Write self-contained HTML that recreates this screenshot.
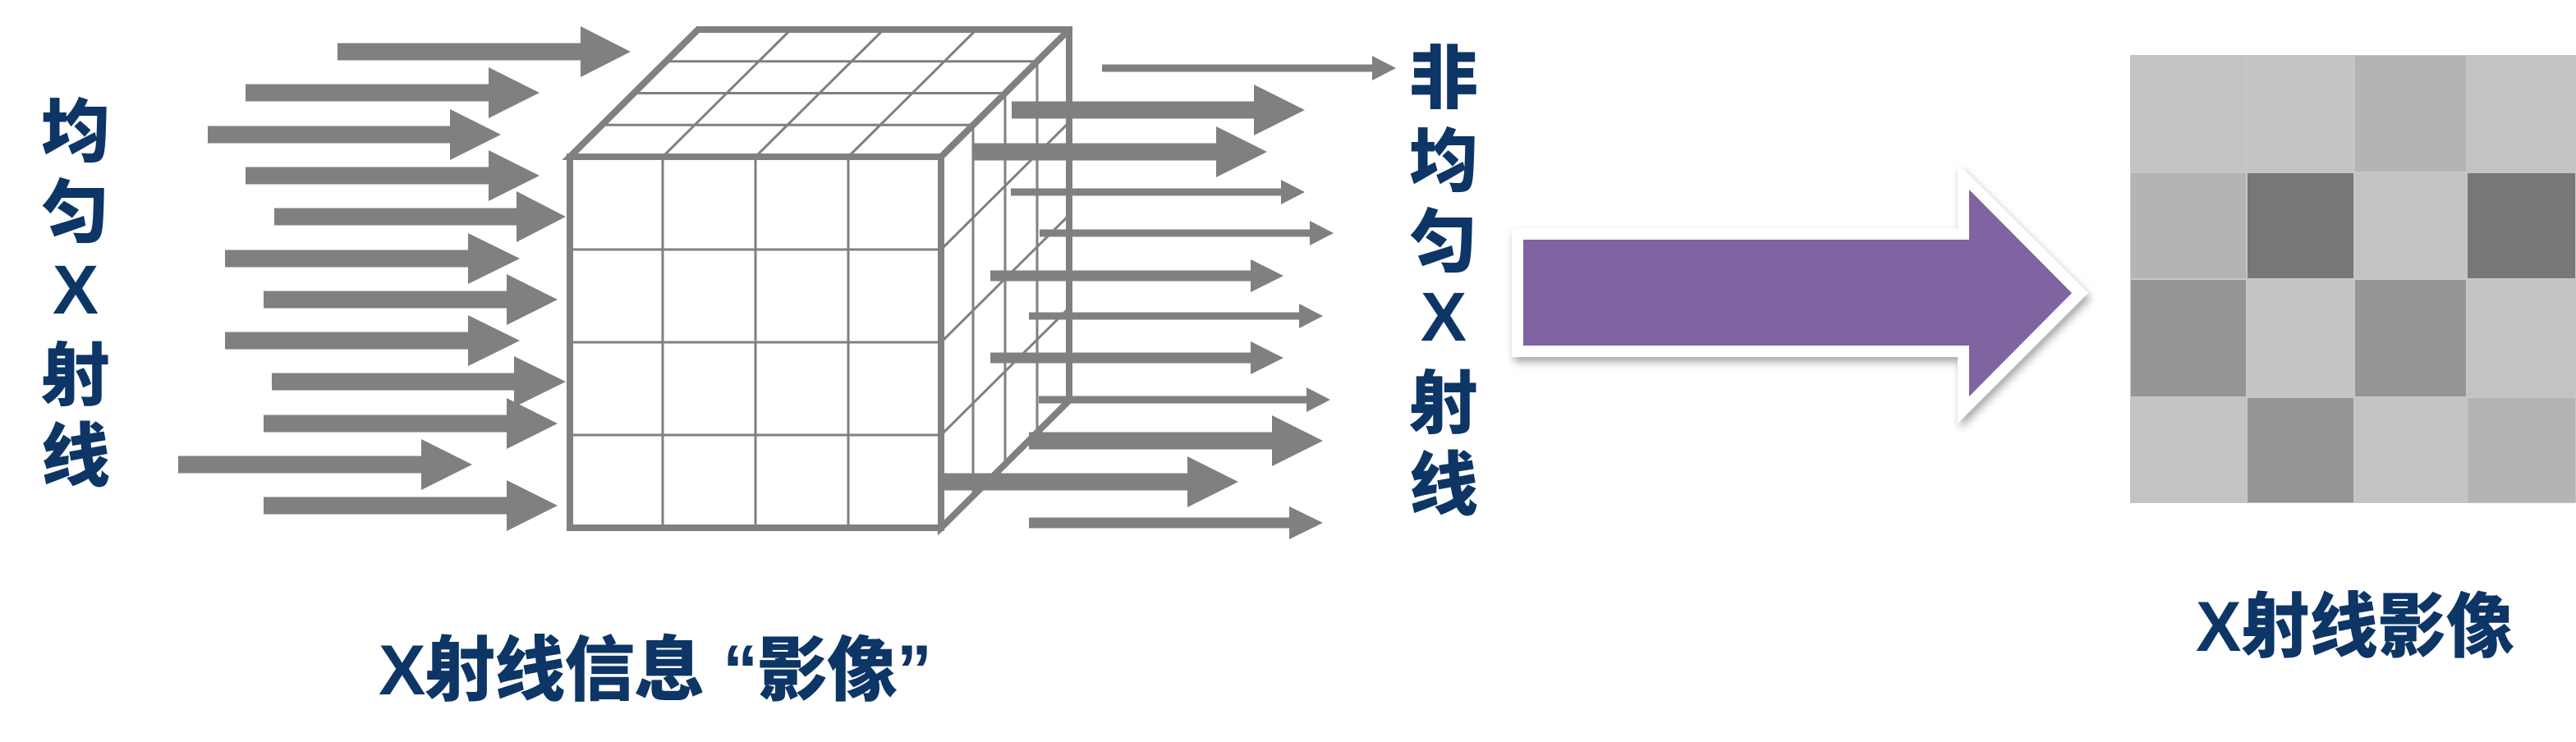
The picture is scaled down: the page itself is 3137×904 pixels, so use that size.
<!DOCTYPE html>
<html><head><meta charset="utf-8"><style>
html,body{margin:0;padding:0;background:#fff;}
svg{display:block;}
text{font-family:"Liberation Sans","Noto Sans CJK SC","WenQuanYi Zen Hei",sans-serif;font-weight:900;fill:#0d3566;}
</style></head><body>
<svg id="s" width="3137" height="904" viewBox="0 0 3137 904" xmlns="http://www.w3.org/2000/svg">
<defs>
<filter id="sh" x="-10%" y="-10%" width="130%" height="140%"><feDropShadow dx="3" dy="6" stdDeviation="5" flood-color="#000" flood-opacity="0.35"/></filter>
</defs>
<g id="cube" stroke="#808080" fill="none"></g>
<g id="arrows" fill="#808080"></g>
<polygon filter="url(#sh)" fill="#fff" points="1841,278 2384,278 2384,199 2543,357 2384,516 2384,435 1841,435"/>
<polygon fill="#8064a2" points="1855,292 2398,292 2398,231 2523,357 2398,483 2398,421 1855,421"/>
<g id="grid"></g>
<g font-size="84" text-anchor="middle">
<text x="92" y="190">均</text>
<text x="92" y="288">匀</text>
<text x="92" y="382">X</text>
<text x="92" y="487">射</text>
<text x="92" y="585">线</text>
<text x="1758" y="125">非</text>
<text x="1758" y="226">均</text>
<text x="1758" y="324">匀</text>
<text x="1758" y="415">X</text>
<text x="1758" y="521">射</text>
<text x="1758" y="620">线</text>
</g>
<text x="461" y="846" font-size="86" textLength="674" lengthAdjust="spacing">X射线信息 “影像”</text>
<text x="2674" y="793" font-size="86" textLength="388" lengthAdjust="spacingAndGlyphs">X射线影像</text>
</svg>
<script>
var NS="http://www.w3.org/2000/svg";
function el(p,t,a){var e=document.createElementNS(NS,t);for(var k in a)e.setAttribute(k,a[k]);p.appendChild(e);return e;}
var cube=document.getElementById('cube');
var FLx=694,FRx=1146,Ty=191,By=643,dx=156,dy=-155;
function ln(x1,y1,x2,y2,w){el(cube,'line',{x1:x1,y1:y1,x2:x2,y2:y2,'stroke-width':w});}
for(var k=1;k<4;k++){
  var ox=dx*k/4,oy=dy*k/4;
  ln(FLx+ox,Ty+oy,FRx+ox,Ty+oy,3);
  ln(FLx+(FRx-FLx)*k/4,Ty,FLx+(FRx-FLx)*k/4+dx,Ty+dy,3);
  ln(FRx+ox,Ty+oy,FRx+ox,By+oy,3);
  var yy=Ty+(By-Ty)*k/4;
  ln(FRx,yy,FRx+dx,yy+dy,3);
  ln(FLx+(FRx-FLx)*k/4,Ty,FLx+(FRx-FLx)*k/4,By,3);
  ln(FLx,yy,FRx,yy,3);
}
el(cube,'rect',{x:FLx,y:Ty,width:FRx-FLx,height:By-Ty,'stroke-width':8});
el(cube,'polygon',{points:[FLx,Ty,FLx+dx,Ty+dy,FRx+dx,Ty+dy,FRx+dx,By+dy,FRx,By,FRx,Ty].join(' '),'stroke-width':8,'stroke-linejoin':'miter'});
ln(FRx,Ty,FRx+dx,Ty+dy,8);
var A=[
[411,707,768,63,10.5,31],[299,595,657,113,10.5,31],[253,548,610,164,10.5,31],[299,595,657,214,10.5,31],
[334,629,689,264,10.5,31],[274,570,633,315,10.5,31],[321,617,679,365,10.5,31],[274,570,633,415,10.5,31],
[331,626,689,465,10.5,31],[321,617,679,516,10.5,31],[217,513,575,566,10.5,31],[321,617,679,616,10.5,31],
[1342,1671,1700,83,4.5,15],[1232,1527,1589,134,10.5,31],[1186,1481,1543,185,10.5,31],[1231,1560,1589,234,4.5,15],
[1266,1595,1624,284,4.5,15],[1206,1523,1563,336,6.5,20],[1253,1582,1611,385,4.5,15],[1206,1523,1563,436,6.5,20],
[1265,1591,1620,487,4.5,15],[1253,1549,1611,537,10.5,31],[1149,1446,1508,587,10.5,31],[1253,1570,1611,637,6.5,20]
];
var ag=document.getElementById('arrows');
A.forEach(function(a){var x0=a[0],h=a[1],t=a[2],y=a[3],s=a[4],H=a[5];
el(ag,'polygon',{points:[x0,y-s,h,y-s,h,y-H,t,y,h,y+H,h,y+s,x0,y+s].join(' ')});});
var g=document.getElementById('grid');
var xs=[2594,2736,2867,3004,3137],ys=[67,210,340,484,613];
var C=[["#c3c3c3","#c3c3c3","#b4b4b4","#c3c3c3"],["#b4b4b4","#777777","#c3c3c3","#777777"],["#959595","#c3c3c3","#959595","#c3c3c3"],["#c3c3c3","#959595","#c3c3c3","#b4b4b4"]];
el(g,'rect',{x:2594,y:67,width:543,height:546,fill:'#c6c6c6'});
for(var r=0;r<4;r++)for(var c=0;c<4;c++){
 el(g,'rect',{x:xs[c]+1,y:ys[r]+1,width:xs[c+1]-xs[c]-2,height:ys[r+1]-ys[r]-2,fill:C[r][c]});}
</script>
</body></html>
